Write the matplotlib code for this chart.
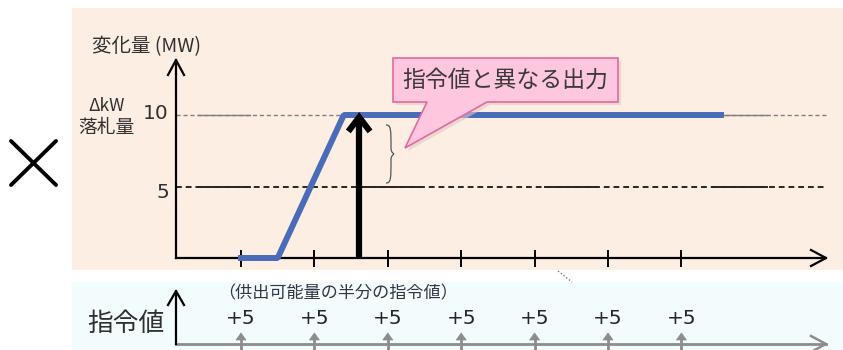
import matplotlib
matplotlib.use("Agg")
import matplotlib.pyplot as plt
from matplotlib.patches import Rectangle, Polygon, PathPatch
from matplotlib.path import Path

plt.rcParams['font.family'] = ['Noto Sans CJK JP', 'DejaVu Sans']

# ---------------- data ----------------
tick_positions = [1, 2, 3, 4, 5, 6, 7]
output_x = [1.0, 1.5, 2.4, 7.54]          # actual output (blue)
output_y = [0, 0, 10, 10]
command_x = 2.61                           # command arrow (black)
command_y = 10
level_values = [10, 5]
level_colors = ['#808080', '#262626']
level_widths = [1.0, 1.4]
solid_segments = [(0.41, 1.12), (2.66, 3.44), (5.14, 5.85), (7.43, 8.17)]
y_tick_labels = ['10', '5']
command_labels = ['+5'] * 7
y_axis_title = '変化量 (MW)'
bid_label_1 = 'ΔkW'
bid_label_2 = '落札量'
callout_text = '指令値と異なる出力'
lower_title = '指令値'
lower_note = '（供出可能量の半分の指令値）'

# ---------------- layout helpers (pixel -> data) ----------------
def X(px):
    return (px - 241) / 73.4 + 1

def Y(py):
    return (258 - py) / 14.3

fig = plt.figure(figsize=(8.43, 3.5), dpi=100)
ax = fig.add_axes([0, 0, 1, 1])
ax.set_xlim(X(0), X(843))
ax.set_ylim(Y(350), Y(0))
ax.axis('off')

x0 = X(176)
x_end = X(826)
y_top = Y(60)
txt = '#303030'

# backgrounds
ax.add_patch(Rectangle((X(72), Y(270)), X(843) - X(72), Y(8) - Y(270),
                       color='#FDEEE4', zorder=0, lw=0))
ax.add_patch(Rectangle((X(72), Y(350)), X(843) - X(72), Y(282) - Y(350),
                       color='#F3FCFD', zorder=0, lw=0))

# big cross
ax.plot([X(11), X(56)], [Y(141), Y(185)], color='black', lw=2.8, solid_capstyle='round')
ax.plot([X(11), X(56)], [Y(185), Y(141)], color='black', lw=2.8, solid_capstyle='round')

# reference level lines
for lv, c, w in zip(level_values, level_colors, level_widths):
    ax.plot([x0, x_end], [lv, lv], color=c, lw=w, dashes=(3, 2), zorder=2)
    for a, b in solid_segments:
        ax.plot([a, b], [lv, lv], color=c, lw=w, zorder=2)

# main axes
ax.plot([x0, x0], [0, y_top], color='black', lw=1.6, zorder=3)
ax.plot([x0, x_end], [0, 0], color='black', lw=1.6, zorder=3)
ax.plot([x0 - 8 / 73.4, x0, x0 + 8 / 73.4], [y_top - 15 / 14.3, y_top, y_top - 15 / 14.3],
        color='black', lw=1.6, zorder=3)
ax.plot([x_end - 15 / 73.4, x_end, x_end - 15 / 73.4], [8 / 14.3, 0, -8 / 14.3],
        color='black', lw=1.6, zorder=3)
for t in tick_positions:
    ax.plot([t, t], [-8 / 14.3, 7 / 14.3], color='black', lw=1.4, zorder=3)

# blue output line
ax.plot(output_x, output_y, color='#4A6CB8', lw=4.3, zorder=4, solid_joinstyle='bevel')

# command arrow
ax.plot([command_x, command_x], [0, command_y - 0.4], color='black', lw=4.5, zorder=5,
        solid_capstyle='butt')
ax.plot([command_x - 9 / 73.4, command_x, command_x + 9 / 73.4],
        [command_y - 14 / 14.3, command_y - 0.15, command_y - 14 / 14.3],
        color='black', lw=4.4, zorder=5, solid_joinstyle='miter')

# brace
bx = X(386)
btop, bbot = Y(125), Y(183)
bmid = (btop + bbot) / 2
w = 5 / 73.4
verts = [(bx, btop), (bx + w, btop), (bx + w, btop - 0.3), (bx + w, bmid + 0.4),
         (bx + w, bmid + 0.1), (bx + w * 1.6, bmid), (bx + w * 1.6, bmid),
         (bx + w * 1.6, bmid), (bx + w, bmid - 0.1), (bx + w, bmid - 0.4),
         (bx + w, bbot + 0.3), (bx + w, bbot), (bx, bbot)]
codes = [Path.MOVETO] + [Path.CURVE4] * 12
ax.add_patch(PathPatch(Path(verts, codes), fc='none', ec='#555555', lw=0.9, zorder=4))

# callout
shadow = [(396, 61), (621, 61), (621, 105), (490, 105), (408, 151), (430, 105), (396, 105)]
ax.add_patch(Polygon([(X(a), Y(b)) for a, b in shadow], closed=True, fc='#d9cbc3',
                     ec='none', alpha=0.6, zorder=6))
callout = [(393, 58), (618, 58), (618, 102), (487, 102), (405, 148), (427, 102), (393, 102)]
ax.add_patch(Polygon([(X(a), Y(b)) for a, b in callout], closed=True, fc='#FFC6DF',
                     ec='#E5699D', lw=1.2, zorder=7))
ax.text(X(505), Y(80), callout_text, fontsize=16.5, color='#3a3a3a', ha='center',
        va='center', zorder=8)

# axis texts
ax.text(X(146), Y(47), y_axis_title, fontsize=14, color=txt, ha='center', va='center')
ax.text(X(107), Y(106), bid_label_1, fontsize=12.5, color=txt, ha='center', va='center')
ax.text(X(106), Y(128), bid_label_2, fontsize=13.5, color=txt, ha='center', va='center')
for lv, lab, dy in zip(level_values, y_tick_labels, [0.1, -0.45]):
    ax.text(X(169), lv + dy, lab, fontsize=14.5, color=txt, ha='right', va='center',
            family=['DejaVu Sans'])

# small dotted stroke
ax.plot([X(558), X(572)], [Y(271), Y(282)], color='#777777', lw=1.0, dashes=(1, 1.5))

# ---------------- lower panel ----------------
ly = Y(344)
ax.plot([x0, x_end], [ly, ly], color='#8c8c8c', lw=2.0, zorder=3)
ax.plot([x_end - 15 / 73.4, x_end, x_end - 15 / 73.4], [ly + 8 / 14.3, ly, ly - 8 / 14.3],
        color='#8c8c8c', lw=1.8, zorder=3)
ax.plot([x0, x0], [ly, Y(291)], color='black', lw=1.6, zorder=3)
ax.plot([x0 - 8 / 73.4, x0, x0 + 8 / 73.4], [Y(291) - 14 / 14.3, Y(291), Y(291) - 14 / 14.3],
        color='black', lw=1.6, zorder=3)
for t, lab in zip(tick_positions, command_labels):
    ax.plot([t, t], [Y(352), Y(338)], color='#8c8c8c', lw=2.0, zorder=4)
    ax.add_patch(Polygon([(t - 5 / 73.4, Y(340)), (t, Y(333)), (t + 5 / 73.4, Y(340))],
                         closed=True, fc='#8c8c8c', ec='#8c8c8c', lw=0.5, zorder=4))
    ax.text(t, Y(318), lab, fontsize=14.5, color='#262626', ha='center', va='center',
            family=['DejaVu Sans'])

ax.text(X(126), Y(324), lower_title, fontsize=18.5, color=txt, ha='center', va='center')
ax.text(X(218), Y(293), lower_note, fontsize=12.3, color='#333344', ha='left', va='center')

fig.savefig('out.png', dpi=100)
